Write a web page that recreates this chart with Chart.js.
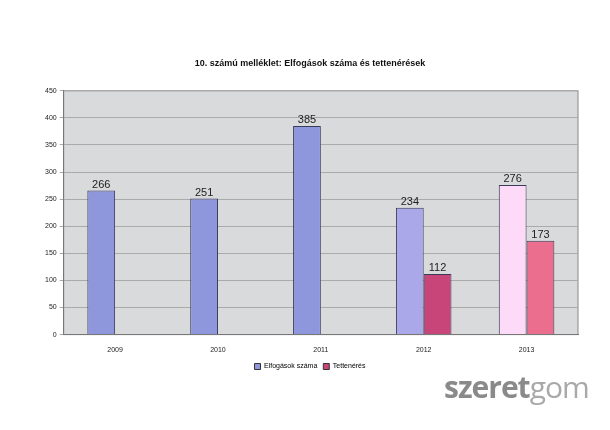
<!DOCTYPE html>
<html><head><meta charset="utf-8">
<script src="https://cdn.jsdelivr.net/npm/chart.js@4"></script>
<style>body{margin:0;background:#fff;}#wrap{position:relative;width:610px;height:430px;}
#wm{position:absolute;left:444px;top:366px;font:30px "Open Sans",sans-serif;color:#a9a9a9;letter-spacing:-1px}
#wm b{color:#8a8a8a;font-weight:700}</style>
</head><body><div id="wrap"><canvas id="c" width="610" height="430"></canvas><div id="wm"><b>szeret</b>gom</div></div>
<script>
const years = ['2009', '2010', '2011', '2012', '2013'];
const elfogasok = [266, 251, 385, 234, 276];
const tettenerés = [null, null, null, 112, 173];
const blueCols = ['#8e96dc', '#8e96dc', '#8e96dc', '#aaa8e8', '#fcdaf8'];
const pinkCols = ['#c8457a', '#c8457a', '#c8457a', '#c8457a', '#ec6e8e'];

const bg = {
  id: 'bg',
  beforeDraw(ch) {
    const a = ch.chartArea, x = ch.ctx;
    x.save(); x.fillStyle = '#d9dadb'; x.fillRect(a.left, a.top, a.right - a.left, a.bottom - a.top);
    x.strokeStyle = '#888'; x.lineWidth = 1; x.strokeRect(a.left, a.top, a.right - a.left, a.bottom - a.top); x.restore();
  }
};
const labels = {
  id: 'lbl',
  afterDatasetsDraw(ch) {
    const x = ch.ctx; x.save(); x.font = '11px Arial'; x.fillStyle = '#222'; x.textAlign = 'center';
    ch.data.datasets.forEach((d, i) => ch.getDatasetMeta(i).data.forEach((b, j) => {
      if (d.data[j] != null) x.fillText(d.data[j], b.x, b.y - 6);
    }));
    x.restore();
  }
};
new Chart(document.getElementById('c'), {
  type: 'bar',
  data: { labels: years, datasets: [
    { label: 'Elfogások száma', data: elfogasok, backgroundColor: blueCols, borderColor: '#3a3a5a', borderWidth: 1 },
    { label: 'Tettenérés', data: tettenerés, backgroundColor: pinkCols, borderColor: '#3a3a5a', borderWidth: 1 }
  ]},
  options: {
    responsive: false, animation: false,
    layout: { padding: { left: 42, right: 32, top: 0, bottom: 50 } },
    categoryPercentage: 0.54, barPercentage: 1,
    plugins: {
      title: { display: true, text: '10. számú melléklet: Elfogások száma és tettenérések', font: { family: 'Arial', size: 9, weight: 'bold' }, color: '#111', padding: { top: 58, bottom: 22 } },
      legend: { position: 'bottom', labels: { boxWidth: 6, boxHeight: 6, font: { family: 'Arial', size: 7 }, color: '#222', padding: 6,
        generateLabels: ch => ch.data.datasets.map((d, i) => ({ text: d.label, fillStyle: i ? '#c8457a' : '#8e96dc', strokeStyle: '#333', lineWidth: 1, datasetIndex: i })) } },
      tooltip: { enabled: false }
    },
    scales: {
      x: { grid: { display: false }, border: { color: '#777' }, ticks: { font: { family: 'Arial', size: 7 }, color: '#222' } },
      y: { min: 0, max: 450, ticks: { stepSize: 50, font: { family: 'Arial', size: 7 }, color: '#222' }, grid: { color: '#aaa', tickLength: 4 }, border: { color: '#777' } }
    }
  },
  plugins: [bg, labels]
});
</script></body></html>
